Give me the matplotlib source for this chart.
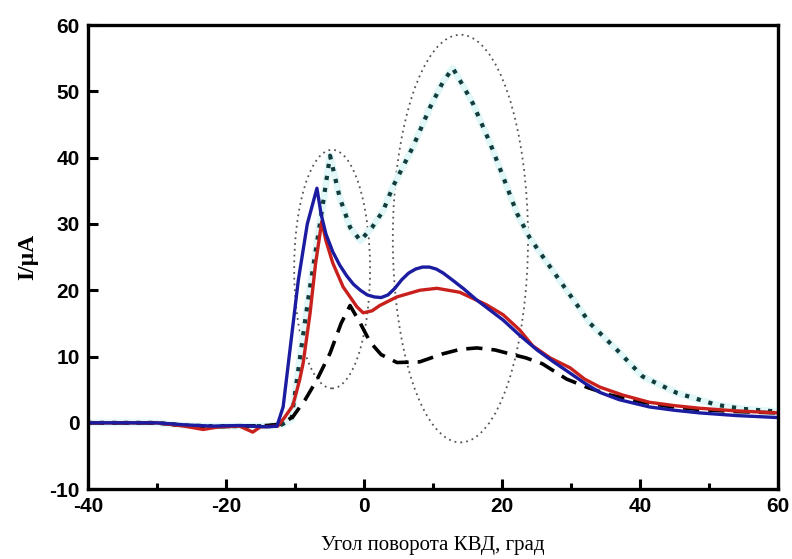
from matplotlib import patches, pyplot as plt

plt.rcParams['axes.unicode_minus'] = False

# angle readings (deg) and current (uA) for each curve
blue_x = [-40, -30, -26, -22, -18, -14, -12.6, -11.7, -9.5, -8.2, -6.8, -6.2, -5.5,
          -4.5, -3.5, -2.5, -1.5, -0.5, 0.5, 1.5, 2.5, 3.5, 4.5, 5.5, 6.5, 7.5, 8.5,
          9.5, 10.5, 11.5, 12.9, 14.5, 16.4, 18.3, 20.2, 22.5, 25.1, 27.5, 29.9, 32.0,
          34.2, 37.0, 41.4, 45.0, 48.7, 54.0, 60.0]
blue_y = [0, 0, -0.3, -0.5, -0.4, -0.6, -0.5, 2.4, 21.5, 30.0, 35.4, 31.5, 28.5,
          25.8, 23.8, 22.2, 20.9, 20.0, 19.3, 19.0, 18.9, 19.3, 20.3, 21.6, 22.6, 23.2, 23.5,
          23.5, 23.2, 22.6, 21.5, 20.2, 18.5, 17.0, 15.5, 13.3, 11.0, 9.2, 7.5, 6.0,
          4.6, 3.5, 2.4, 1.9, 1.5, 1.1, 0.8]

red_x = [-40, -30, -26, -23.3, -21, -18, -16.1, -15, -12.5, -11.5, -10.3, -9.3, -8.8,
         -7.8, -7.0, -6.1, -5.5, -4.5, -3.0, -1.0, -0.1, 1.2, 2.3, 4.8, 8.1, 10.6,
         13.9, 17.8, 20.2, 22.6, 24.5, 27.0, 29.9, 32.0, 34.2, 37.5, 41.4, 45.0, 48.7,
         54.0, 60.0]
red_y = [0, 0, -0.5, -1.0, -0.6, -0.5, -1.4, -0.6, -0.5, 0.8, 2.6, 6.5, 9.0,
         16.5, 24.0, 30.4, 27.5, 24.1, 20.5, 17.5, 16.6, 16.9, 17.7, 19.0, 20.0, 20.3,
         19.7, 17.8, 16.3, 14.0, 11.6, 9.8, 8.3, 6.6, 5.4, 4.2, 3.1, 2.6, 2.2,
         1.8, 1.5]

dash_x = [-40, -30, -26, -22, -18, -14, -12, -10.3, -8.5, -6.8, -4.9, -3.3, -2.0,
          -0.5, 0.9, 2.5, 4.8, 8.1, 11.4, 14.0, 16.4, 19.0, 21.2, 23.5, 25.9, 29.4,
          32.5, 35.7, 40.0, 44.0, 48.7, 54.0, 60.0]
dash_y = [0, 0, -0.4, -0.6, -0.5, -0.4, -0.2, 0.9, 3.5, 6.5, 10.5, 15.0, 17.7,
          15.0, 12.2, 10.3, 9.1, 9.2, 10.4, 11.1, 11.3, 11.0, 10.4, 9.8, 8.9, 6.6,
          5.3, 4.2, 3.2, 2.5, 2.0, 1.7, 1.5]

dot_x = [-40, -30, -26, -22, -18, -14, -12, -10.5, -9.5, -8.5, -7.8, -6.3, -4.9,
         -3.5, -2.0, -0.5, 1.2, 2.8, 4.2, 5.5, 7.1, 9.6, 11.5, 12.9, 14.3, 15.8,
         18.3, 20.2, 22.2, 24.0, 26.0, 29.4, 32.8, 36.7, 40.4, 45.4, 51.2, 55.0, 60.0]
dot_y = [0, 0, -0.4, -0.5, -0.5, -0.5, -0.3, 0.5, 8.0, 15.5, 20.5, 30.5, 40.3,
         34.0, 29.5, 27.5, 29.5, 32.0, 35.6, 38.3, 41.6, 47.6, 51.5, 53.5, 51.0, 48.2,
         42.2, 37.1, 31.6, 28.0, 25.0, 20.0, 15.0, 11.0, 7.0, 4.5, 2.7, 2.1, 1.7]

# marked regions: (centre x, centre y, width, height)
regions = [(-4.6, 23.2, 11.0, 36.0), (14.0, 27.8, 19.6, 61.5)]

fig = plt.figure(figsize=(7.92, 5.59), dpi=100)
ax = fig.add_axes([0.111, 0.125, 0.871, 0.830])

for cx, cy, w, h in regions:
    ax.add_patch(patches.Ellipse((cx, cy), w, h, fill=False, edgecolor='#555555',
                                 lw=1.3, linestyle=(0, (1, 2.2))))

ax.plot(dot_x, dot_y, color='#e2f7f7', lw=5, solid_capstyle='round')
ax.plot(dot_x, dot_y, color='#123c3c', lw=3.0, linestyle=(0, (1, 1.9)))
ax.plot(dash_x, dash_y, color='black', lw=2.6, linestyle=(0, (4.5, 2.5)))
ax.plot(red_x, red_y, color='#c8201c', lw=2.4)
ax.plot(blue_x, blue_y, color='#1c1ca0', lw=2.4)

ax.set_xlim(-40, 60)
ax.set_ylim(-10, 60)
ax.set_xticks([-40, -20, 0, 20, 40, 60])
ax.set_xticks([-30, -10, 10, 30, 50], minor=True)
ax.set_yticks(range(-10, 61, 10))

for s in ax.spines.values():
    s.set_linewidth(2.4)
ax.tick_params(which='both', direction='in', width=2.2, top=False, right=False)
ax.tick_params(which='major', length=7, pad=6)
ax.tick_params(which='minor', length=4)
for lab in ax.get_xticklabels() + ax.get_yticklabels():
    lab.set_fontfamily('Liberation Sans')
    lab.set_fontweight('bold')
    lab.set_fontsize(15)

ax.set_xlabel('Угол поворота КВД, град', family='Liberation Serif', fontsize=15,
              labelpad=14)
ax.set_ylabel('I/μA', family='Liberation Serif', fontsize=17, fontweight='bold',
              labelpad=8)

fig.savefig('out.png', dpi=100)
